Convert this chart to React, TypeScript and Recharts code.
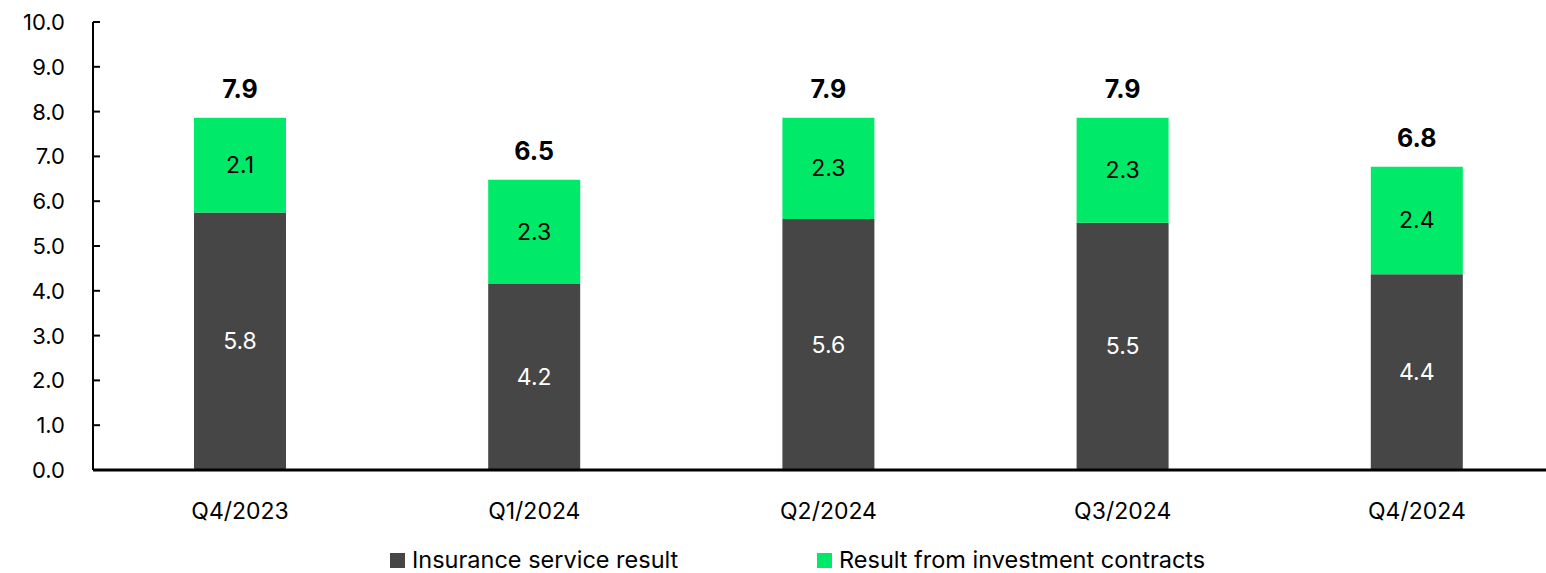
import { BarChart, Bar, XAxis, YAxis, LabelList } from 'recharts';

const GREY = '#464646';
const GREEN = '#00E969';
const FONT = 'Inter, "Noto Sans", sans-serif';

const quarters = ['Q4/2023', 'Q1/2024', 'Q2/2024', 'Q3/2024', 'Q4/2024'];
const insuranceResult = [5.75, 4.15, 5.6, 5.52, 4.37];
const investmentResult = [2.11, 2.33, 2.26, 2.34, 2.4];
const yTicks = [0, 1, 2, 3, 4, 5, 6, 7, 8, 9, 10];

const chartData = quarters.map((q, i) => ({
  quarter: q,
  insurance: insuranceResult[i],
  investment: investmentResult[i],
  total: insuranceResult[i] + investmentResult[i],
}));

const YTick = (props: { x?: number; y?: number; payload?: { value: number } }) => {
  const { x = 0, y = 0, payload } = props;
  return (
    <g>
      <line x1={x + 28} x2={x + 35} y1={y} y2={y} stroke="#000" strokeWidth={2} />
      <text x={x} y={y} dy={8} textAnchor="end" fontSize={22} fill="#000" fontFamily={FONT}>
        {payload ? payload.value.toFixed(1) : ''}
      </text>
    </g>
  );
};

const SegmentLabel = (color: string) => (props: { x?: number; y?: number; width?: number; height?: number; value?: number }) => {
  const { x, y, width, height, value } = props;
  if (x === undefined || y === undefined || width === undefined || height === undefined || value === undefined) return null;
  return (
    <text
      x={Number(x) + Number(width) / 2}
      y={Number(y) + Number(height) / 2}
      dy={8}
      textAnchor="middle"
      fontSize={23}
      fill={color}
      fontFamily={FONT}
    >
      {Number(value).toFixed(1)}
    </text>
  );
};

const TotalLabel = (props: { x?: number; y?: number; width?: number; value?: number }) => {
  const { x, y, width, value } = props;
  if (x === undefined || y === undefined || width === undefined || value === undefined) return null;
  return (
    <text
      x={Number(x) + Number(width) / 2}
      y={Number(y) - 20}
      textAnchor="middle"
      fontSize={25}
      fontWeight={700}
      fill="#000"
      fontFamily={FONT}
    >
      {Number(value).toFixed(1)}
    </text>
  );
};

function LegendItem({ color, label, left }: { color: string; label: string; left: number }) {
  return (
    <div style={{ position: 'absolute', left, top: 0, height: 22, display: 'flex', alignItems: 'center', whiteSpace: 'nowrap' }}>
      <div style={{ width: 15, height: 15, background: color, marginRight: 7 }} />
      <span style={{ fontSize: 23.5, lineHeight: '22px', color: '#000', fontFamily: FONT }}>{label}</span>
    </div>
  );
}

export default function App() {
  return (
    <div style={{ position: 'absolute', left: 0, top: 0, width: 1546, height: 573, overflow: 'hidden', background: '#fff' }}>
      <BarChart
        width={1564}
        height={573}
        data={chartData}
        margin={{ top: 22, right: 0, left: 0, bottom: 54 }}
        barSize={92}
      >
        <XAxis
          dataKey="quarter"
          axisLine={{ stroke: '#000', strokeWidth: 3 }}
          tickLine={false}
          tickMargin={27}
          height={49}
          tick={{ fontSize: 23, fill: '#000', fontFamily: FONT }}
        />
        <YAxis
          domain={[0, 10]}
          ticks={yTicks}
          interval={0}
          width={93}
          tickSize={0}
          tickMargin={28}
          axisLine={{ stroke: '#000', strokeWidth: 2 }}
          tick={<YTick />}
        />
        <Bar dataKey="insurance" stackId="a" fill={GREY} isAnimationActive={false}>
          <LabelList dataKey="insurance" content={SegmentLabel('#fff')} />
        </Bar>
        <Bar dataKey="investment" stackId="a" fill={GREEN} isAnimationActive={false}>
          <LabelList dataKey="investment" content={SegmentLabel('#000')} />
          <LabelList dataKey="total" content={<TotalLabel />} />
        </Bar>
      </BarChart>
      <div style={{ position: 'absolute', left: 0, top: 549, width: 1546, height: 22 }}>
        <LegendItem color={GREY} label="Insurance service result" left={390} />
        <LegendItem color={GREEN} label="Result from investment contracts" left={817} />
      </div>
    </div>
  );
}
